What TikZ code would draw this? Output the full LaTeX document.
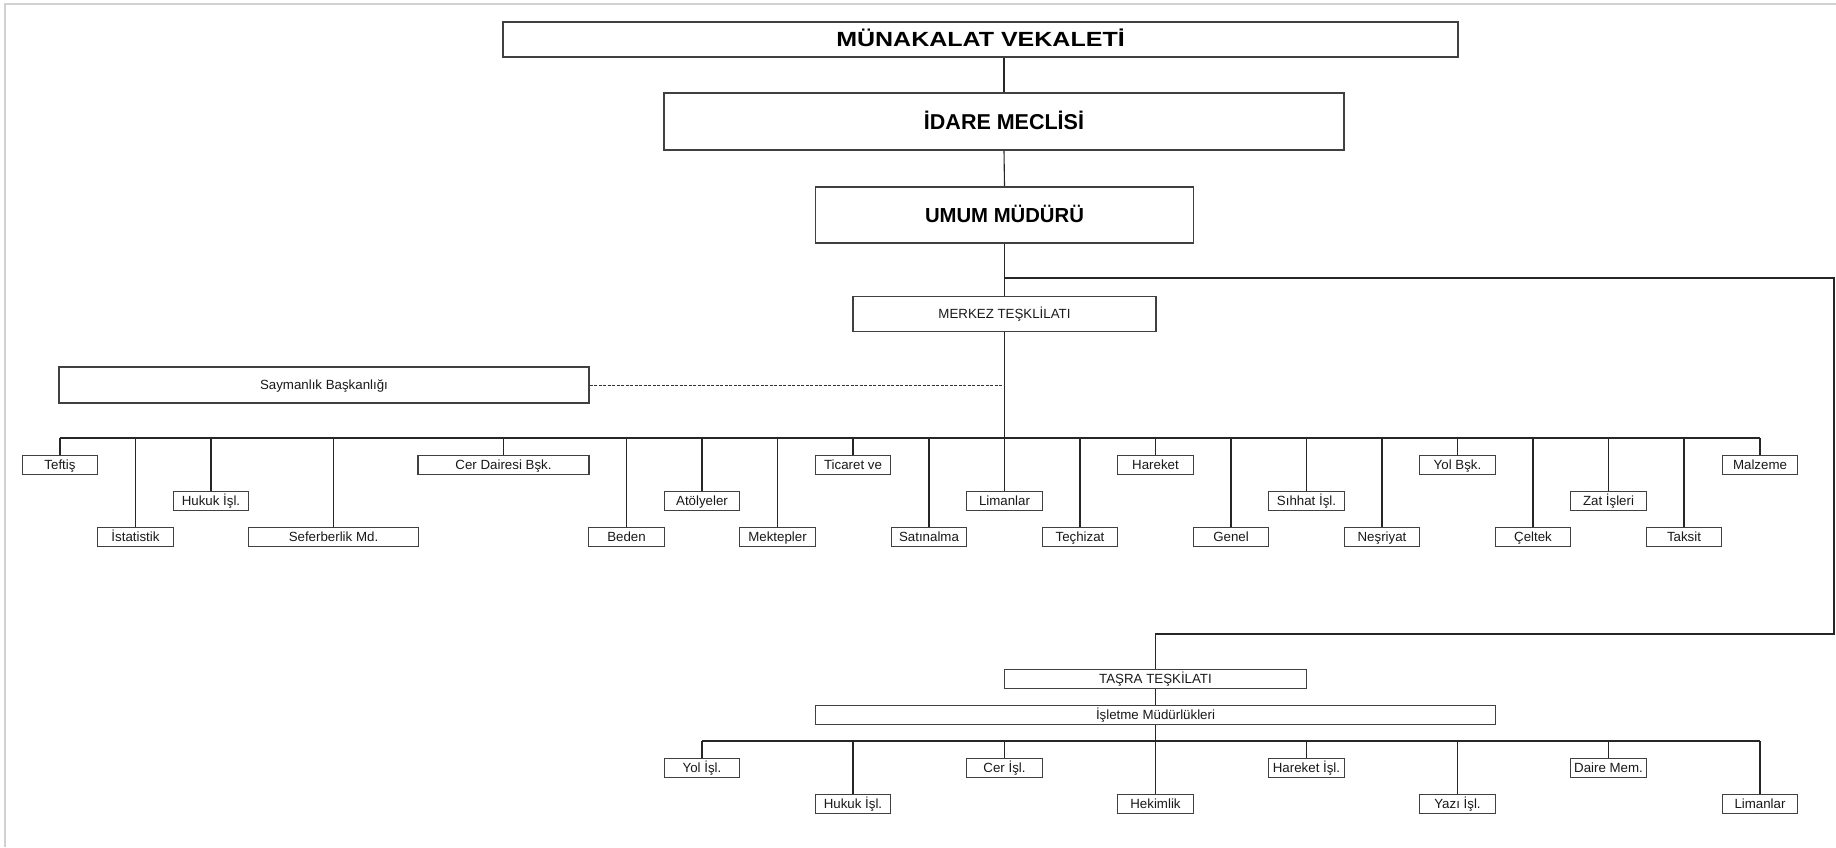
\documentclass[tikz,border=0pt]{standalone}
\usepackage{fontspec}
\setmainfont{Liberation Sans}
\begin{document}
\begin{tikzpicture}[x=1pt,y=-1pt,
  lab/.style={draw=black!75, line width=1.1pt, inner sep=0pt, minimum height=18.5pt,
    text height=9.6pt, text depth=0pt, font=\fontsize{13.3}{14}\selectfont, text=black!90},
  unitbox/.style={lab, minimum width=75.5pt},
  bigbox/.style={draw=black!75, line width=1.6pt, inner sep=0pt, text depth=0pt, text=black},
  conn/.style={draw=black!85, line width=1.1pt},
  dashconn/.style={draw=black!80, line width=0.9pt, dash pattern=on 3pt off 1.5pt}
]
\fill[white] (0,0) rectangle (1836,847);
\useasboundingbox (0,0) rectangle (1836,847);
\draw[black!18, line width=2pt] (5,847) -- (5,4) -- (1836,4);

% top hierarchy
\node[bigbox, minimum width=955pt, minimum height=35pt, text height=14.7pt,
  font=\fontsize{20.5}{24}\selectfont\bfseries] (munakalat) at (980.5,39.5)
  {\scalebox{1.22}[1]{MÜNAKALAT VEKALETİ}};
\node[bigbox, minimum width=680pt, minimum height=57pt, text height=15.4pt,
  font=\fontsize{21.5}{24}\selectfont\bfseries] (idare) at (1004,121.5) {İDARE MECLİSİ};
\node[bigbox, minimum width=378pt, minimum height=56pt, text height=14.6pt,
  font=\fontsize{20.3}{24}\selectfont\bfseries] (umum) at (1004.5,215) {UMUM MÜDÜRÜ};
\node[lab, minimum width=303pt, minimum height=35pt] (merkez) at (1004.5,314) {MERKEZ TEŞKLİLATI};
\node[lab, minimum width=530pt, minimum height=36pt] (sayman) at (324,385) {Saymanlık Başkanlığı};

% merkez children
\node[unitbox] (teftis) at (60,465) {Teftiş};
\node[unitbox] (istat) at (135.5,537) {İstatistik};
\node[unitbox] (hukuk) at (211,501) {Hukuk İşl.};
\node[lab, minimum width=170pt] (sefer) at (333.5,537) {Seferberlik Md.};
\node[lab, minimum width=171pt] (cer) at (503.5,465) {Cer Dairesi Bşk.};
\node[unitbox] (beden) at (626.5,537) {Beden};
\node[unitbox] (atolye) at (702,501) {Atölyeler};
\node[unitbox] (mektep) at (777.5,537) {Mektepler};
\node[unitbox] (ticaret) at (853,465) {Ticaret ve};
\node[unitbox] (satin) at (929,537) {Satınalma};
\node[unitbox] (liman) at (1004.5,501) {Limanlar};
\node[unitbox] (techiz) at (1080,537) {Teçhizat};
\node[unitbox] (hareket) at (1155.5,465) {Hareket};
\node[unitbox] (genel) at (1231,537) {Genel};
\node[unitbox] (sihhat) at (1306.5,501) {Sıhhat İşl.};
\node[unitbox] (nesriyat) at (1382,537) {Neşriyat};
\node[unitbox] (yolbsk) at (1457.5,465) {Yol Bşk.};
\node[unitbox] (celtek) at (1533,537) {Çeltek};
\node[unitbox] (zat) at (1608.5,501) {Zat İşleri};
\node[unitbox] (taksit) at (1684,537) {Taksit};
\node[unitbox] (malzeme) at (1760,465) {Malzeme};

% tasra
\node[lab, minimum width=302pt] (tasra) at (1155.5,679) {TAŞRA TEŞKİLATI};
\node[lab, minimum width=680pt] (isletme) at (1155.5,715) {İşletme Müdürlükleri};
\node[unitbox] (yolisl) at (702,768) {Yol İşl.};
\node[unitbox] (hukukisl) at (853,804) {Hukuk İşl.};
\node[unitbox] (cerisl) at (1004.5,768) {Cer İşl.};
\node[unitbox] (hekim) at (1155.5,804) {Hekimlik};
\node[unitbox] (harisl) at (1306.5,768) {Hareket İşl.};
\node[unitbox] (yazi) at (1457.5,804) {Yazı İşl.};
\node[unitbox] (daire) at (1608.5,768) {Daire Mem.};
\node[unitbox] (liman2) at (1760,804) {Limanlar};

% connectors top
\draw[conn] (idare.north) -- (idare.north |- munakalat.south);
\draw[conn] (idare.south) -- (umum.north);
\draw[conn] (umum.south) -- (merkez.north);
\coordinate (br) at (1004.5,278);
\coordinate (rt) at (1834,278);
\coordinate (rb) at (1834,634);
\coordinate (tb) at (1155.5,634);
\draw[conn] (br) -- (rt) -- (rb) -- (tb) -- (tasra.north);

% merkez trunk and bar
\draw[conn] (merkez.south) -- (liman.north);
\draw[dashconn] (sayman.east) -- (sayman.east -| merkez.south);
\coordinate (hbar) at (0,438);
\draw[conn] (teftis.north |- hbar) -- (malzeme.north |- hbar);
\foreach \n in {teftis,istat,hukuk,sefer,cer,beden,atolye,mektep,ticaret,satin,
  techiz,hareket,genel,sihhat,nesriyat,yolbsk,celtek,zat,taksit,malzeme}
  \draw[conn] (\n.north) -- (\n.north |- hbar);

% tasra connectors
\draw[conn] (tasra.south) -- (isletme.north);
\draw[conn] (isletme.south) -- (hekim.north);
\coordinate (bbar) at (0,741);
\draw[conn] (yolisl.north |- bbar) -- (liman2.north |- bbar);
\foreach \n in {yolisl,hukukisl,cerisl,harisl,yazi,daire,liman2}
  \draw[conn] (\n.north) -- (\n.north |- bbar);
\end{tikzpicture}
\end{document}
